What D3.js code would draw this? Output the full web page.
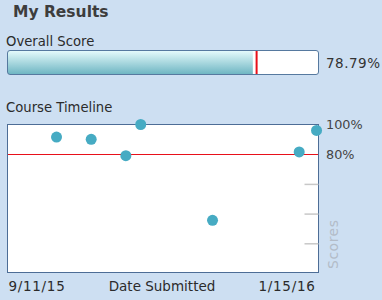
<!DOCTYPE html>
<html>
<head>
<meta charset="utf-8">
<script src="https://cdn.jsdelivr.net/npm/d3@7"></script>
<style>
  body { margin: 0; background: #cddff2; }
  svg { display: block; font-family: "DejaVu Sans", Verdana, sans-serif; }
</style>
</head>
<body>
<svg id="chart" width="382" height="300"></svg>
<script>
// overall score
const overallScore = 78.79;
const targetScore = 80;

// timeline points (date submitted, score %)
const submitDates = ["2015-10-01", "2015-10-15", "2015-10-29", "2015-11-04", "2015-12-03", "2016-01-07", "2016-01-14"];
const scores = [91.5, 90, 79, 100, 35.5, 81.5, 96];
const dateRange = ["2015-09-11", "2016-01-15"];
const labelledTicks = [100, 80];
const plainTicks = [60, 40, 20];

const parse = d3.timeParse("%Y-%m-%d");
const fmt = d3.timeFormat("%-m/%-d/%y");

const svg = d3.select("#chart");

svg.append("rect").attr("width", 382).attr("height", 300).attr("fill", "#cddff2");

svg.append("text")
    .attr("x", 13).attr("y", 17)
    .attr("font-size", 15.5).attr("font-weight", "bold")
    .attr("fill", "#3d3d3d")
    .text("My Results");

// --- overall score bar ---
svg.append("text")
    .attr("x", 6).attr("y", 46)
    .attr("font-size", 13.2).attr("fill", "#2b2b2b")
    .text("Overall Score");

const defs = svg.append("defs");
const grad = defs.append("linearGradient")
    .attr("id", "barGrad").attr("x1", 0).attr("y1", 0).attr("x2", 0).attr("y2", 1);
grad.append("stop").attr("offset", "0%").attr("stop-color", "#e4fafb");
grad.append("stop").attr("offset", "100%").attr("stop-color", "#6fb6c3");

const barX = d3.scaleLinear().domain([0, 100]).range([7, 319]);

svg.append("rect")
    .attr("x", 7.5).attr("y", 50.5).attr("width", 311).attr("height", 24)
    .attr("rx", 2.5).attr("fill", "#fff");
svg.append("rect")
    .attr("x", 8).attr("y", 51)
    .attr("width", barX(overallScore) - 8).attr("height", 23)
    .attr("fill", "url(#barGrad)");
svg.append("line")
    .attr("x1", barX(targetScore)).attr("x2", barX(targetScore))
    .attr("y1", 51).attr("y2", 74)
    .attr("stroke", "#e8101a").attr("stroke-width", 2);
svg.append("rect")
    .attr("x", 7.5).attr("y", 50.5).attr("width", 311).attr("height", 24)
    .attr("rx", 2.5).attr("fill", "none").attr("stroke", "#56799f");
svg.append("text")
    .attr("x", 326).attr("y", 68)
    .attr("font-size", 13.5).attr("letter-spacing", 0.5).attr("fill", "#333")
    .text(overallScore.toFixed(2) + "%");

// --- course timeline ---
svg.append("text")
    .attr("x", 6).attr("y", 112)
    .attr("font-size", 13.2).attr("fill", "#2b2b2b")
    .text("Course Timeline");

const x = d3.scaleTime().domain(dateRange.map(parse)).range([7, 319]);
const y = d3.scaleLinear().domain([0, 100]).range([273, 124.5]);

svg.append("rect")
    .attr("x", 7.5).attr("y", 124.5).attr("width", 311).attr("height", 148)
    .attr("fill", "#fff").attr("stroke", "#4d6d96");

// gray inner ticks
const tickAxis = svg.append("g")
    .attr("transform", "translate(318.5,0)")
    .call(d3.axisLeft(y).tickValues(plainTicks).tickSize(14).tickFormat(""));
tickAxis.select(".domain").remove();
tickAxis.selectAll("line").attr("stroke", "#c8c8c8").attr("stroke-width", 1.5);

// target line
svg.append("line")
    .attr("x1", 8).attr("x2", 318)
    .attr("y1", Math.round(y(targetScore)) + 0.5).attr("y2", Math.round(y(targetScore)) + 0.5)
    .attr("stroke", "#e8101a").attr("stroke-width", 1);

// labels on right
const labelAxis = svg.append("g")
    .attr("transform", "translate(319,0)")
    .call(d3.axisRight(y).tickValues(labelledTicks).tickSize(0).tickPadding(7).tickFormat(d => d + "%"));
labelAxis.select(".domain").remove();
labelAxis.selectAll("text")
    .attr("font-family", "DejaVu Sans, Verdana, sans-serif")
    .attr("font-size", 12.8).attr("fill", "#444");

svg.append("text")
    .attr("transform", "translate(338,269) rotate(-90)")
    .attr("font-size", 14).attr("letter-spacing", 0.5).attr("fill", "#b3bcc8")
    .text("Scores");

// points
const points = submitDates.map((d, i) => ({ date: parse(d), score: scores[i] }));
svg.append("g").selectAll("circle")
    .data(points)
    .enter().append("circle")
    .attr("cx", d => x(d.date))
    .attr("cy", d => y(d.score))
    .attr("r", 5.5)
    .attr("fill", "#46abc3");

// x labels
const xAxis = svg.append("g")
    .attr("transform", "translate(0,276)")
    .call(d3.axisBottom(x).tickValues(dateRange.map(parse)).tickSize(0).tickPadding(5).tickFormat(fmt));
xAxis.select(".domain").remove();
xAxis.selectAll("text")
    .attr("font-family", "DejaVu Sans, Verdana, sans-serif")
    .attr("font-size", 13.5).attr("letter-spacing", 0.7).attr("fill", "#2b2b2b")
    .attr("text-anchor", (d, i) => i === 0 ? "start" : "end")
    .attr("dx", (d, i) => i === 0 ? 1 : -4);

svg.append("text")
    .attr("x", 162).attr("y", 291)
    .attr("text-anchor", "middle")
    .attr("font-size", 13.5).attr("fill", "#2b2b2b")
    .text("Date Submitted");
</script>
</body>
</html>
